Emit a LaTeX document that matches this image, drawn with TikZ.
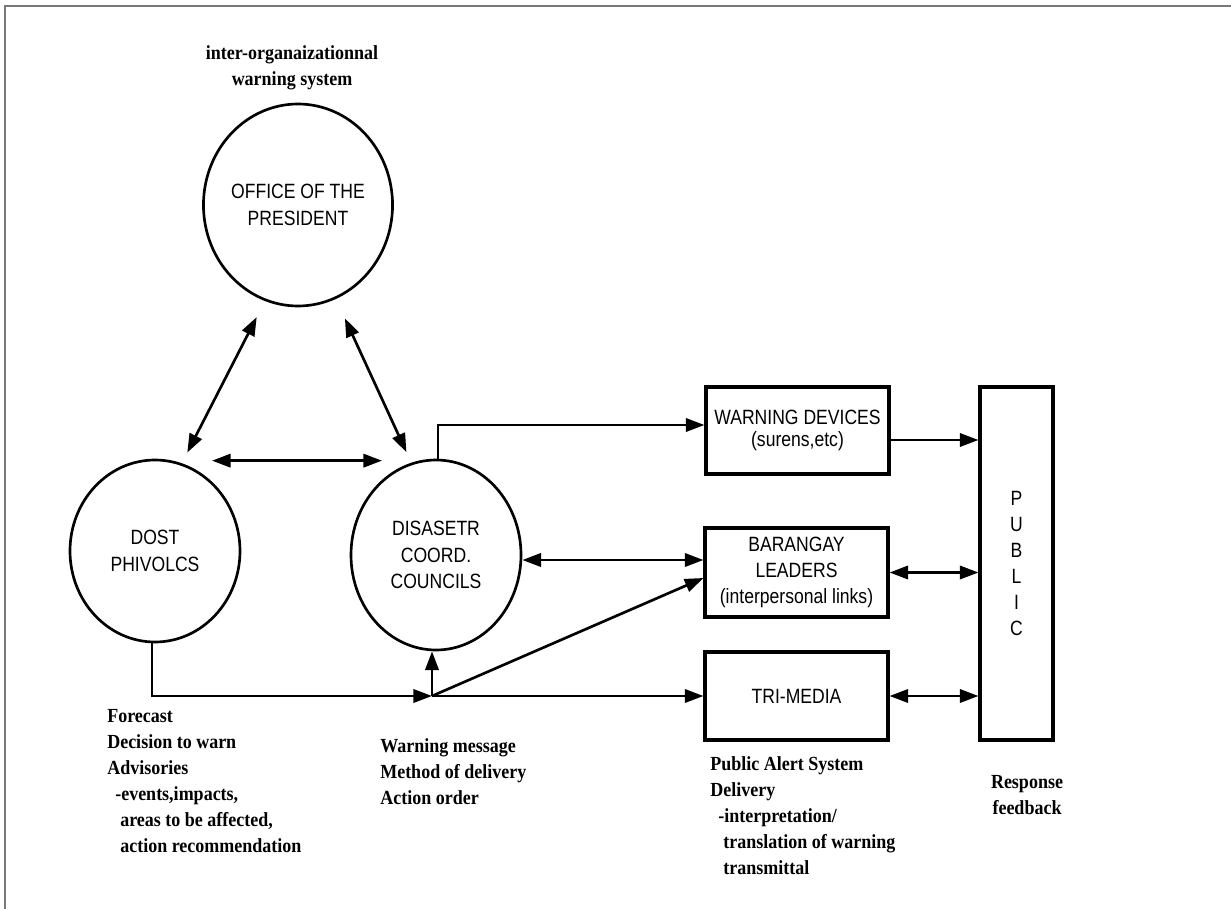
\documentclass[tikz,border=0pt]{standalone}
\usepackage{fontspec}
\setmainfont{Liberation Serif}[FakeStretch=0.9]
\newfontfamily\gothfont{Liberation Sans}[FakeStretch=0.85]
\usetikzlibrary{arrows.meta,shapes.geometric,calc}

\begin{document}
\begin{tikzpicture}[x=0.75pt,y=0.75pt,yscale=-1,xscale=1,
	every node/.style={inner sep=0pt},
	org/.style={draw,ellipse,line width=2pt,minimum width=127.5pt,align=center,font=\gothfont\fontsize{15.5pt}{20pt}\selectfont},
	unit/.style={draw,rectangle,line width=2.3pt,minimum width=137.25pt,align=center,font=\gothfont\fontsize{15.5pt}{19.5pt}\selectfont},
	note/.style={anchor=base west,align=left,font=\bfseries\fontsize{15pt}{19.5pt}\selectfont},
	arr/.style={line width=2pt,-{Triangle[length=14pt,width=10pt]}},
	dbl/.style={line width=2pt,{Triangle[length=14pt,width=10pt]}-{Triangle[length=14pt,width=10pt]}}]
			\useasboundingbox (0,0) rectangle (1231,909);
			%Straight Lines: page frame
			\draw [color={rgb, 255:red, 120; green, 120; blue, 120}, line width=1pt] (5,909) -- (5,6) -- (1231,6) ;
			
			%Shape: Ellipse
			\node [org, minimum height=151.5pt] (pres) at (298,205) {OFFICE OF THE\\PRESIDENT};
			%Shape: Ellipse
			\node [org, minimum height=136.5pt] (dost) at (155,551) {DOST\\PHIVOLCS};
			%Shape: Ellipse
			\node [org, minimum height=142.5pt] (dis) at (436,555) {DISASETR\\COORD.\\COUNCILS};
			
			%Shape: Rectangle
			\node [unit, minimum height=65.25pt, font=\gothfont\fontsize{15.5pt}{17pt}\selectfont] (warn) at (797.5,430.5) {WARNING DEVICES\\(surens,etc)};
			%Shape: Rectangle
			\node [unit, minimum height=66.75pt] (bar) at (796.5,572.5) {BARANGAY\\LEADERS\\(interpersonal links)};
			%Shape: Rectangle
			\node [unit, minimum height=66pt] (tri) at (796.5,696) {TRI-MEDIA};
			%Shape: Rectangle
			\node [unit, minimum width=54.75pt, minimum height=264.75pt] (public) at (1016.5,563.5) {P\\U\\B\\L\\I\\C};
			
			\coordinate (junc) at (432,696);
			\coordinate (wout) at ($(warn.east)+(0,9.5)$);
			\coordinate (dout) at ($(dis.east)+(0,5)$);
			
			%Straight Lines
			\draw [dbl, shorten <=13.5pt, shorten >=9pt] (pres.251) -- (dost.73) ;
			\draw [dbl, shorten <=16pt, shorten >=8.7pt] (pres.292) -- (dis.105) ;
			\draw [dbl] ($(dost.north)+(57,2)$) -- ($(dis.north)+(-54,2)$) ;
			\draw [arr] ($(dis.north)+(2,0)$) |- ($(warn.west)+(0,-5.5)$) ;
			\draw [arr] (wout) -- (wout -| public.west) ;
			\draw [dbl] (dout) -- (dout -| bar.west) ;
			\draw [dbl] (bar.east) -- (bar.east -| public.west) ;
			\draw [dbl] (tri.east) -- (tri.east -| public.west) ;
			\draw [arr] ($(dost.south)+(-3,0)$) |- (junc) ;
			\draw [arr] (junc) -- (junc |- dis.south) ;
			\draw [arr] (junc) -- ($(bar.west)+(0,5.5)$) ;
			\draw [arr] (junc) -- (tri.west) ;
			
			% Text Node (base = last line)
			\node [note, anchor=base, align=center] (title) at (292,86) {inter-organaizationnal\\warning system};
			% Text Node
			\node [note] (dostnote) at (107,852) {Forecast\\Decision to warn\\Advisories\\\hspace*{6pt}-events,impacts,\\\hspace*{9.75pt}areas to be affected,\\\hspace*{9.75pt}action recommendation};
			% Text Node
			\node [note] (disnote) at (380,804) {Warning message\\Method of delivery\\Action order};
			% Text Node
			\node [note] (trinote) at (710,874) {Public Alert System\\Delivery\\\hspace*{6pt}-interpretation/\\\hspace*{9.75pt}translation of warning\\\hspace*{9.75pt}transmittal};
			% Text Node
			\node [note, anchor=base, align=center] (pubnote) at (1027,814) {Response\\feedback};
		\end{tikzpicture}
\end{document}
